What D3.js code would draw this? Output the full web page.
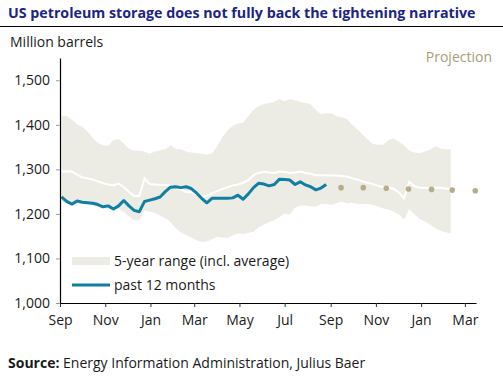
<!DOCTYPE html>
<html>
<head>
<meta charset="utf-8">
<script src="https://cdn.jsdelivr.net/npm/d3@7"></script>
<style>
  body { margin: 0; background: #fff; }
  svg text { font-family: "Open Sans", sans-serif; }
</style>
</head>
<body>
<div id="chart"></div>
<script>
// data (million barrels), weekly from 3 Sep 2021
var bandStart = new Date(2021, 8, 3);
var bandHigh = [1420,1420,1412,1401,1396,1385,1371,1360,1354,1353,1366,1368,1358,1346,1342,1342,1340,1335,1340,1343,
                1345,1354,1346,1345,1340,1338,1337,1335,1333,1336,1352,1373,1387,1398,1403,1405,1420,1434,1442,1447,
                1449,1452,1458,1453,1458,1455,1451,1449,1446,1433,1424,1426,1426,1419,1417,1413,1400,1390,1379,1367,
                1357,1355,1355,1366,1370,1362,1354,1342,1338,1336,1340,1344,1352,1347,1345,1345];
var bandAvg = [1295,1296,1295,1288,1282,1280,1277,1273,1269,1266,1264,1268,1260,1250,1240,1240,1280,1267,1266,1265,
               1265,1263,1259,1255,1249,1250,1244,1239,1240,1246,1251,1256,1260,1264,1266,1270,1276,1287,1292,1295,
               1293,1292,1295,1294,1292,1293,1295,1292,1290,1287,1287,1287,1286,1286,1285,1284,1280,1277,1273,1270,
               1267,1263,1260,1260,1256,1248,1235,1272,1262,1259,1258,1258,1259,1259,1257,1255];
var bandLow = [1228,1224,1226,1230,1225,1222,1220,1218,1214,1212,1210,1212,1204,1194,1186,1186,1208,1205,1202,1196,
               1190,1182,1168,1158,1152,1147,1141,1137,1138,1143,1149,1147,1146,1152,1156,1155,1157,1160,1170,1176,
               1181,1186,1193,1201,1198,1214,1219,1219,1217,1216,1222,1222,1220,1224,1228,1224,1225,1223,1222,1222,
               1220,1216,1212,1210,1205,1198,1188,1210,1200,1188,1183,1176,1168,1162,1159,1156];
var past12 = [1238,1228,1222,1229,1226,1225,1224,1221,1216,1218,1211,1218,1230,1218,1208,1205,1228,1231,1234,1238,
              1250,1260,1261,1259,1261,1257,1247,1235,1225,1235,1235,1235,1235,1236,1242,1233,1245,1259,1269,1267,
              1263,1266,1278,1277,1276,1266,1272,1265,1261,1254,1258,1266];
var projDates = [new Date(2022,8,15), new Date(2022,9,15), new Date(2022,10,15), new Date(2022,11,15),
                 new Date(2023,0,15), new Date(2023,1,12), new Date(2023,2,15)];
var projValues = [1259,1259,1257.5,1256,1255,1253.5,1252];
var yTicks = [1000,1100,1200,1300,1400,1500];

// settings for window
var w = 503;
var h = 376;
var padL = 60, padR = 476, padT = 58, padB = 303;
var fs = "14px";

var svg = d3.select("#chart").append("svg").attr("width",w).attr("height",h);

// scales
var xScale = d3.scaleTime().domain([new Date(2021,8,1), new Date(2023,2,16)]).range([padL,padR]);
var yScale = d3.scaleLinear().domain([1000,1550]).range([padB,padT]);

function weekDate(i) { return d3.timeDay.offset(bandStart, 7*i); }

var band = bandHigh.map(function(d,i) { return {date: weekDate(i), hi: d, lo: bandLow[i], avg: bandAvg[i]}; });
var line12 = past12.map(function(d,i) { return {date: weekDate(i), v: d}; });

// title and rule
var title = svg.append("text").attr("x",8).attr("y",18).style("font-weight","bold").style("font-size","15px").style("fill","#1b2584").text("US petroleum storage does not fully back the tightening narrative");
var tl = title.node().getComputedTextLength();
title.style("font-size",(15*468/tl)+"px");
svg.append("line").attr("x1",0).attr("x2",w).attr("y1",26.5).attr("y2",26.5).attr("stroke","#000").attr("stroke-width",1);

svg.append("text").attr("x",10).attr("y",47).style("font-size",fs).style("fill","#1a1a1a").text("Million barrels");
svg.append("text").attr("x",492).attr("y",62).attr("text-anchor","end").style("font-size",fs).style("fill","#a69e78").text("Projection");

// 5-year range
svg.append("path").datum(band).attr("fill","#edece4")
    .attr("d",d3.area().x(function(d) { return xScale(d.date); }).y0(function(d) { return yScale(d.lo); }).y1(function(d) { return yScale(d.hi); }));
svg.append("path").datum(band).attr("fill","none").attr("stroke","#fff").attr("stroke-width",2)
    .attr("d",d3.line().x(function(d) { return xScale(d.date); }).y(function(d) { return yScale(d.avg); }));

// past 12 months
svg.append("path").datum(line12).attr("fill","none").attr("stroke","#0f7fa2").attr("stroke-width",3).attr("stroke-linejoin","round")
    .attr("d",d3.line().x(function(d) { return xScale(d.date); }).y(function(d) { return yScale(d.v); }));

// projection dots
svg.selectAll("circle.proj").data(projValues).enter().append("circle").attr("class","proj")
    .attr("cx",function(d,i) { return xScale(projDates[i]); }).attr("cy",function(d) { return yScale(d); })
    .attr("r",2.8).attr("fill","#b6ae88");

// axes
var xAxis = d3.axisBottom(xScale).ticks(d3.timeMonth.every(2)).tickFormat(d3.timeFormat("%b")).tickSizeInner(4).tickSizeOuter(0);
var yAxis = d3.axisLeft(yScale).tickValues(yTicks).tickFormat(d3.format(",")).tickSizeInner(4).tickSizeOuter(0);

var gx = svg.append("g").attr("class","x axis").attr("transform","translate(0,"+padB+")").call(xAxis);
var gy = svg.append("g").attr("class","y axis").attr("transform","translate("+padL+",0)").call(yAxis);
gx.select(".domain").attr("stroke","#000").attr("stroke-width",1.2);
gy.select(".domain").attr("stroke","#000").attr("stroke-width",1.2);
gx.selectAll(".tick line").attr("stroke","#333");
gy.selectAll(".tick line").attr("stroke","#999");
gx.selectAll(".tick text").attr("dy","1.05em").style("font-size",fs).style("fill","#1a1a1a").style("font-family","'Open Sans', sans-serif");
gy.selectAll(".tick text").attr("x",-10).style("font-size",fs).style("fill","#1a1a1a").style("font-family","'Open Sans', sans-serif");

// legend
svg.append("rect").attr("x",72).attr("y",257).attr("width",38).attr("height",8).attr("fill","#edece4");
svg.append("text").attr("x",114).attr("y",266).style("font-size",fs).style("fill","#1a1a1a").text("5-year range (incl. average)");
svg.append("line").attr("x1",72).attr("x2",110).attr("y1",285).attr("y2",285).attr("stroke","#0f7fa2").attr("stroke-width",3);
svg.append("text").attr("x",114).attr("y",290).style("font-size",fs).style("fill","#1a1a1a").text("past 12 months");

// source
var src = svg.append("text").attr("x",8).attr("y",368).style("font-size",fs).style("fill","#1a1a1a");
src.append("tspan").style("font-weight","bold").text("Source:");
src.append("tspan").text(" Energy Information Administration, Julius Baer");
</script>
</body>
</html>
